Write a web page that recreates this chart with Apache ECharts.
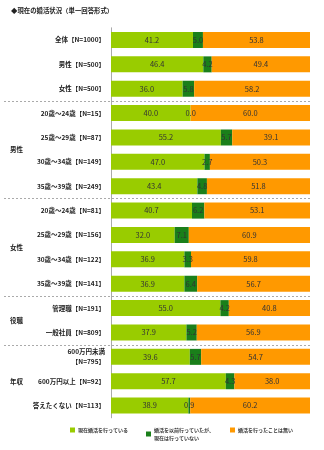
<!DOCTYPE html>
<html><head><meta charset="utf-8">
<script src="https://cdn.jsdelivr.net/npm/echarts@6/dist/echarts.min.js"></script>
<style>html,body{margin:0;padding:0;background:#fff;}#c{width:324px;height:450px;}</style>
</head><body><div id="c"></div>
<script>
const categories = ['全体【N=1000】','男性【N=500】','女性【N=500】',
 '20歳～24歳【N=15】','25歳～29歳【N=87】','30歳～34歳【N=149】','35歳～39歳【N=249】',
 '20歳～24歳【N=81】','25歳～29歳【N=156】','30歳～34歳【N=122】','35歳～39歳【N=141】',
 '管理職【N=191】','一般社員【N=809】','600万円未満\n【N=795】','600万円以上【N=92】','答えたくない【N=113】'];
const seriesNames = ['現在婚活を行っている','婚活を以前行っていたが、\n現在は行っていない','婚活を行ったことは無い'];
const current = [41.2,46.4,36.0,40.0,55.2,47.0,43.4,40.7,32.0,36.9,36.9,55.0,37.9,39.6,57.7,38.9];
const past    = [5.0,4.2,5.8,0.0,5.7,2.7,4.8,6.2,7.1,3.3,6.4,4.2,5.2,5.7,4.3,0.9];
const never   = [53.8,49.4,58.2,60.0,39.1,50.3,51.8,53.1,60.9,59.8,56.7,40.8,56.9,54.7,38.0,60.2];
const groups = [{name:'男性',from:3,to:6},{name:'女性',from:7,to:10},{name:'役職',from:11,to:12},{name:'年収',from:13,to:15}];
const separatorsAfter = [2,6,10,12];
const title = '◆現在の婚活状況（単一回答形式）';

const FONT = '"Noto Sans CJK JP", sans-serif';
const colors = ['#99cc00','#1a7f1a','#ff9900'];
const chart = echarts.init(document.getElementById('c'));
const lbl = {show:true, position:'inside', fontSize:7.5, fontFamily:FONT, color:'#333',
  formatter: p => p.value.toFixed(1)};
const vals = [current, past, never];
const legendX = [70,146,230];
chart.setOption({
  animation:false,
  textStyle:{fontFamily:FONT},
  title:{text:title,left:6,top:2,textStyle:{fontSize:6.4,fontWeight:'bold',color:'#222',fontFamily:FONT}},
  grid:{left:111,right:14,top:27.8,bottom:32.2,containLabel:false},
  legend: seriesNames.map((n,i)=>({data:[n],left:legendX[i],top:i===1?426:426,itemWidth:5,itemHeight:5,itemGap:4,
    icon:'rect',textStyle:{fontSize:5,fontWeight:'bold',color:'#333',fontFamily:FONT,lineHeight:8,padding:[0,0,0,-2]},
    selectedMode:false,align:'left',padding:0})),
  xAxis:{type:'value',min:0,max:100,show:false},
  yAxis:{type:'category',data:categories,inverse:true,
    axisLine:{show:true,lineStyle:{color:'#aaa'}},axisTick:{show:false},
    axisLabel:{fontSize:6.5,fontWeight:'bold',color:'#222',fontFamily:FONT,margin:6,lineHeight:10}},
  series: seriesNames.map((n,i)=>({name:n,type:'bar',stack:'s',data:vals[i],barWidth:16,
    itemStyle:{color:colors[i]},label:lbl}))
});
const gx2 = chart.convertToPixel({gridIndex:0},[100,0])[0];
const yOf = i => chart.convertToPixel({yAxisIndex:0}, categories[i]);
const graphics = [];
separatorsAfter.forEach(k=>{
  const y = Math.round((yOf(k)+yOf(k+1))/2)+0.5;
  graphics.push({type:'line',shape:{x1:4,y1:y,x2:gx2,y2:y},style:{stroke:'#aaa',lineDash:[2,2],lineWidth:1}});
});
groups.forEach(g=>{
  const y=(yOf(g.from)+yOf(g.to))/2;
  graphics.push({type:'text',x:10,y:y,style:{text:g.name,fontSize:6.5,fontWeight:'bold',fill:'#222',fontFamily:FONT,textVerticalAlign:'middle'}});
});
chart.setOption({graphic:graphics});
</script></body></html>
